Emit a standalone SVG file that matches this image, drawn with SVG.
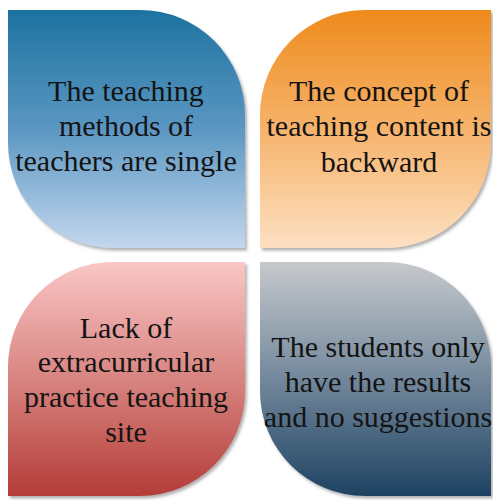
<svg xmlns="http://www.w3.org/2000/svg" width="493" height="500" viewBox="0 0 493 500">
<style>
.lbl{font-family:'Liberation Serif','Times New Roman',serif;font-size:30px;fill:#141414;text-anchor:middle}
.leaf{filter:url(#sh)}
</style>
<defs>
<filter id="sh" x="-5%" y="-5%" width="115%" height="115%">
<feDropShadow dx="2" dy="2.5" stdDeviation="1.5" flood-color="#7a7a7a" flood-opacity="0.6"/>
</filter>
<linearGradient id="gBlue" x1="0" y1="0" x2="0" y2="1">
<stop offset="0" stop-color="#1d72a0"/>
<stop offset="0.5" stop-color="#5b97c2"/>
<stop offset="1" stop-color="#c4d7ee"/>
</linearGradient>
<linearGradient id="gOrange" x1="0" y1="0" x2="0" y2="1">
<stop offset="0" stop-color="#ee8a1c"/>
<stop offset="0.5" stop-color="#f6b36b"/>
<stop offset="1" stop-color="#fde0c2"/>
</linearGradient>
<linearGradient id="gRed" x1="0" y1="0" x2="0" y2="1">
<stop offset="0" stop-color="#f9c6c6"/>
<stop offset="0.5" stop-color="#d88480"/>
<stop offset="1" stop-color="#b43c38"/>
</linearGradient>
<linearGradient id="gGray" x1="0" y1="0" x2="0" y2="1">
<stop offset="0" stop-color="#c6c9cc"/>
<stop offset="0.5" stop-color="#73889c"/>
<stop offset="1" stop-color="#1d4262"/>
</linearGradient>
</defs>
<g id="node-teaching-methods">
<path class="leaf" fill="url(#gBlue)" d="M8,10 H140 A105,105 0 0 1 245,115 V248 H113 A105,105 0 0 1 8,143 Z"/>
<text class="lbl" x="126" y="101">The teaching</text>
<text class="lbl" x="126" y="136">methods of</text>
<text class="lbl" x="126" y="171">teachers are single</text>
</g>
<g id="node-teaching-content">
<path class="leaf" fill="url(#gOrange)" d="M260,115 A105,105 0 0 1 365,10 H491 V143 A105,105 0 0 1 386,248 H260 Z"/>
<text class="lbl" x="379" y="101">The concept of</text>
<text class="lbl" x="379" y="136">teaching content is</text>
<text class="lbl" x="379" y="172">backward</text>
</g>
<g id="node-practice-site">
<path class="leaf" fill="url(#gRed)" d="M8,367 A105,105 0 0 1 113,262 H245 V391 A105,105 0 0 1 140,496 H8 Z"/>
<text class="lbl" x="126" y="338">Lack of</text>
<text class="lbl" x="126" y="372">extracurricular</text>
<text class="lbl" x="126" y="407">practice teaching</text>
<text class="lbl" x="126" y="442">site</text>
</g>
<g id="node-students-results">
<path class="leaf" fill="url(#gGray)" d="M260,262 H386 A105,105 0 0 1 491,367 V496 H365 A105,105 0 0 1 260,391 Z"/>
<text class="lbl" x="378" y="357">The students only</text>
<text class="lbl" x="378" y="392">have the results</text>
<text class="lbl" x="378" y="427">and no suggestions</text>
</g>
<g id="connectors"/>
</svg>
